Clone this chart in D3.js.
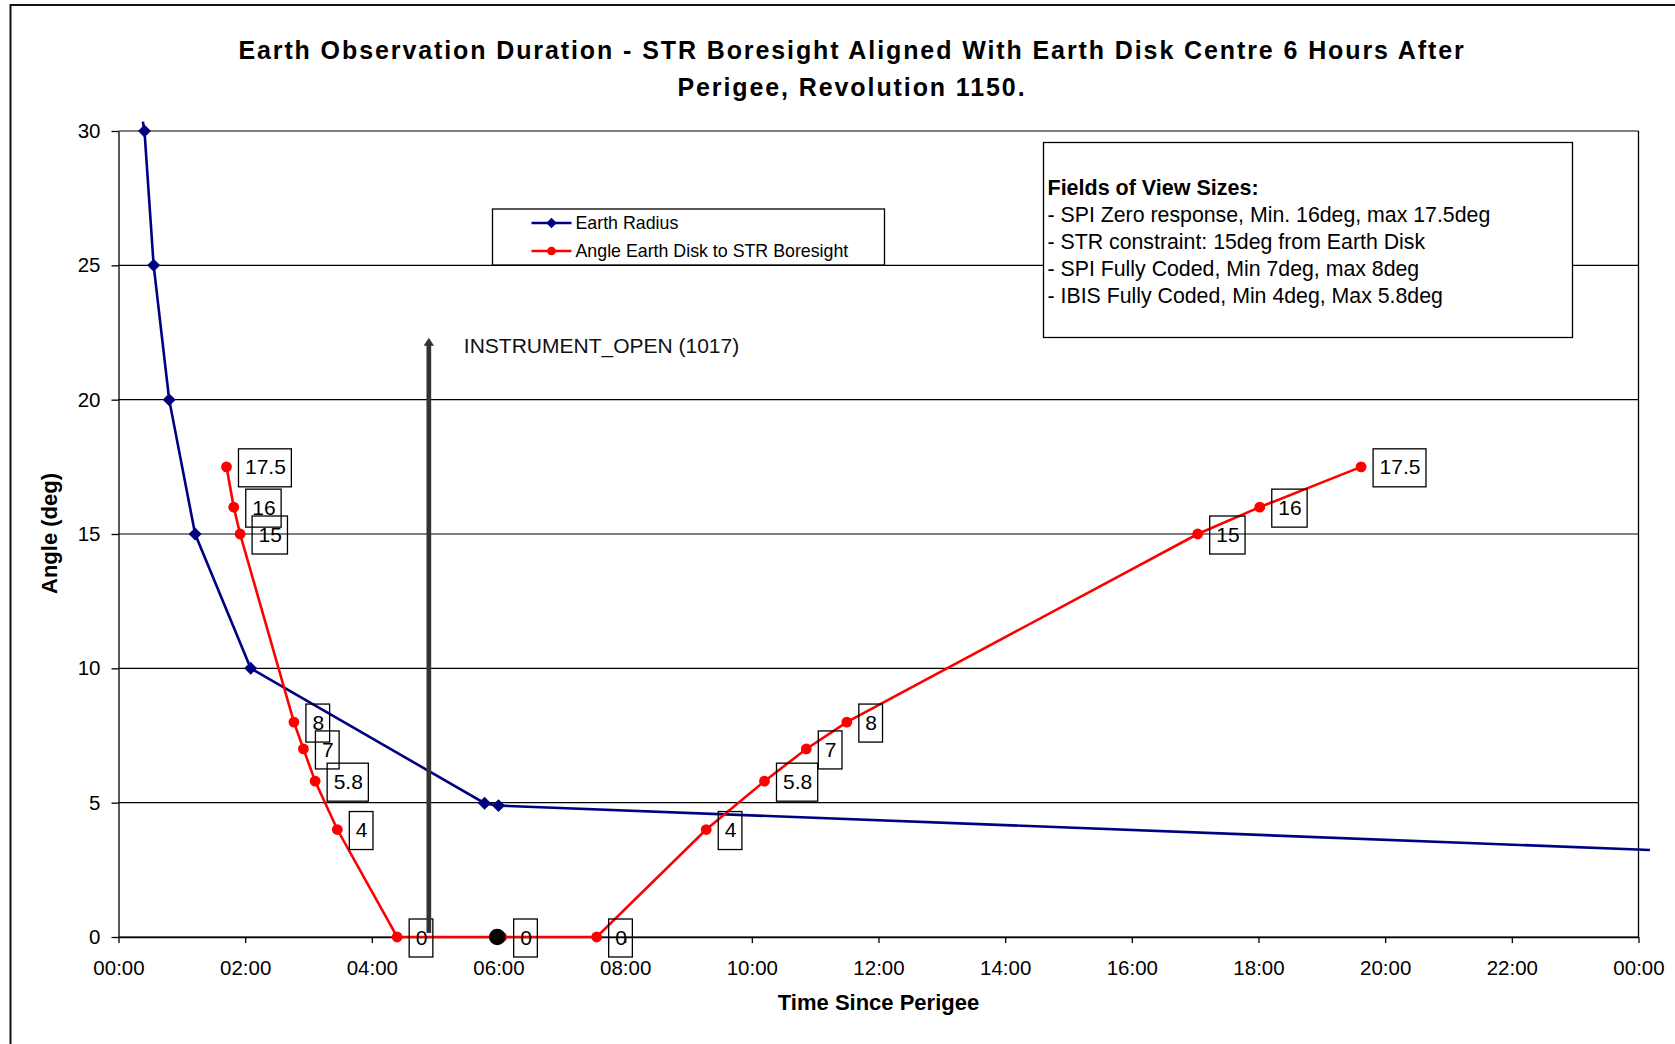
<!DOCTYPE html>
<meta charset="utf-8">
<style>

body { margin: 0; background: #fff; }

text {
  font-family: "Liberation Sans", Arial, sans-serif;
  fill: #000;
}

.grid line {
  stroke: #000;
  stroke-width: 1.2px;
}

.axis path, .axis line {
  stroke: #000;
  stroke-width: 1.3px;
}

.axis text {
  font-size: 20.5px;
}

.lbl rect {
  fill: none;
  stroke: #000;
  stroke-width: 1.3px;
}

</style>
<svg width="1675" height="1044"></svg>
<script src="https://d3js.org/d3.v7.min.js"></script>
<script>

// time since perigee in hours, angles in deg
var radiusTime  = [0.385, 0.41, 0.555, 0.80, 1.21, 2.087, 5.78, 6.0, 24.18];
var radiusAngle = [30.35, 30, 25, 20, 15, 10, 4.98, 4.89, 3.24];

var boreTime  = [1.705, 1.82, 1.92, 2.77, 2.92, 3.105, 3.455, 4.40, 6.05, 7.55, 9.28, 10.2, 10.86, 11.5, 17.04, 18.02, 19.62];
var boreAngle = [17.5, 16, 15, 8, 7, 5.8, 4, 0, 0, 0, 4, 5.8, 7, 8, 15, 16, 17.5];

var xTicks = [0, 2, 4, 6, 8, 10, 12, 14, 16, 18, 20, 22, 24];
var yTicks = [0, 5, 10, 15, 20, 25, 30];

var seriesNames = ["Earth Radius", "Angle Earth Disk to STR Boresight"];
var seriesColors = ["#000080", "#ff0000"];

var sixHourMark = [5.98, 0];

var openTime = 4.9,
    openTop = 22.3,
    openLabel = "INSTRUMENT_OPEN (1017)";

var titleLines = [
  "Earth Observation Duration - STR Boresight Aligned With Earth Disk Centre 6 Hours After",
  "Perigee, Revolution 1150."
];

var fovTitle = "Fields of View Sizes:";
var fovLines = [
  "- SPI Zero response, Min. 16deg, max 17.5deg",
  "- STR constraint: 15deg from Earth Disk",
  "- SPI Fully Coded, Min 7deg, max 8deg",
  "- IBIS Fully Coded, Min 4deg, Max 5.8deg"
];

var svg = d3.select("svg");

var plotLeft = 118.5, plotRight = 1638.5, plotTop = 131, plotBottom = 937;

var x = d3.scaleLinear().domain([0, 24]).range([plotLeft, plotRight]);
var y = d3.scaleLinear().domain([0, 30]).range([plotBottom, plotTop]);

var radius = radiusTime.map(function(t, i) { return [t, radiusAngle[i]]; });
var bore = boreTime.map(function(t, i) { return [t, boreAngle[i]]; });

// chart area frame (runs off the picture right and bottom)
svg.append("rect")
    .attr("x", 10.5).attr("y", 5)
    .attr("width", 1700).attr("height", 1100)
    .attr("fill", "none")
    .attr("stroke", "#111")
    .attr("stroke-width", 2);

svg.append("g").selectAll("text")
    .data(titleLines)
    .enter().append("text")
      .attr("x", 852)
      .attr("y", function(d, i) { return 59 + i * 37; })
      .attr("text-anchor", "middle")
      .style("font-size", "25px")
      .style("font-weight", "bold")
      .style("letter-spacing", "1.9px")
      .text(function(d) { return d; });

// gridlines
svg.append("g")
    .attr("class", "grid")
  .selectAll("line")
  .data(yTicks)
  .enter().append("line")
    .attr("x1", plotLeft).attr("x2", plotRight)
    .attr("y1", function(d) { return y(d); })
    .attr("y2", function(d) { return y(d); });

svg.append("line")
    .attr("x1", plotRight).attr("x2", plotRight)
    .attr("y1", plotTop).attr("y2", plotBottom)
    .attr("stroke", "#000").attr("stroke-width", 1.3);

svg.append("g")
    .attr("class", "axis")
    .attr("transform", "translate(" + plotLeft + ",0)")
    .call(d3.axisLeft(y).tickValues(yTicks).tickSize(7).tickPadding(11).tickSizeOuter(0));

svg.append("g")
    .attr("class", "axis")
    .attr("transform", "translate(0," + plotBottom + ")")
    .call(d3.axisBottom(x).tickValues(xTicks).tickSize(6).tickPadding(17).tickSizeOuter(0)
      .tickFormat(function(d) { return (d % 24 < 10 ? "0" : "") + (d % 24) + ":00"; }));

svg.append("text")
    .attr("transform", "translate(57,533.5) rotate(-90)")
    .attr("text-anchor", "middle")
    .style("font-size", "22px")
    .style("font-weight", "bold")
    .text("Angle (deg)");

svg.append("text")
    .attr("x", (plotLeft + plotRight) / 2)
    .attr("y", 1010)
    .attr("text-anchor", "middle")
    .style("font-size", "22px")
    .style("font-weight", "bold")
    .text("Time Since Perigee");

var line = d3.line()
    .x(function(d) { return x(d[0]); })
    .y(function(d) { return y(d[1]); });

function inside(d) { return d[0] >= 0 && d[0] <= 24 && d[1] >= 0 && d[1] <= 30; }

var diamond = d3.symbol().type(d3.symbolSquare).size(84);

svg.append("path")
    .datum(radius)
    .attr("d", line)
    .attr("fill", "none")
    .attr("stroke", seriesColors[0])
    .attr("stroke-width", 2.6);

svg.append("g").selectAll("path")
    .data(radius.filter(inside))
    .enter().append("path")
      .attr("d", diamond)
      .attr("transform", function(d) { return "translate(" + x(d[0]) + "," + y(d[1]) + ") rotate(45)"; })
      .attr("fill", seriesColors[0]);

svg.append("path")
    .datum(bore)
    .attr("d", line)
    .attr("fill", "none")
    .attr("stroke", seriesColors[1])
    .attr("stroke-width", 2.6);

svg.append("g").selectAll("circle")
    .data(bore)
    .enter().append("circle")
      .attr("cx", function(d) { return x(d[0]); })
      .attr("cy", function(d) { return y(d[1]); })
      .attr("r", 5.4)
      .attr("fill", seriesColors[1]);

svg.append("circle")
    .attr("cx", x(sixHourMark[0]))
    .attr("cy", y(sixHourMark[1]))
    .attr("r", 8.3)
    .attr("fill", "#000");

// boxed data labels
var lbl = svg.append("g").selectAll("g")
    .data(bore)
    .enter().append("g")
      .attr("class", "lbl")
      .attr("transform", function(d) { return "translate(" + (x(d[0]) + 12) + "," + y(d[1]) + ")"; });

lbl.append("text")
    .attr("x", 6.5)
    .attr("y", 7.6)
    .style("font-size", "21px")
    .text(function(d) { return d[1]; });

lbl.append("rect")
    .attr("x", 0)
    .attr("y", -18)
    .attr("height", 38)
    .attr("width", function() {
      return this.parentNode.querySelector("text").getComputedTextLength() + 12;
    });

// instrument open arrow
var ax = x(openTime), tipY = y(openTop);
svg.append("line")
    .attr("x1", ax).attr("x2", ax)
    .attr("y1", plotBottom - 4).attr("y2", tipY + 6)
    .attr("stroke", "#333")
    .attr("stroke-width", 4.7);
svg.append("path")
    .attr("d", "M" + (ax - 5.2) + "," + (tipY + 8) + "L" + ax + "," + tipY + "L" + (ax + 5.2) + "," + (tipY + 8) + "Z")
    .attr("fill", "#333");
svg.append("text")
    .attr("x", ax + 35)
    .attr("y", tipY + 15)
    .style("font-size", "21px")
    .style("fill", "#111")
    .text(openLabel);

// legend
var legend = svg.append("g").attr("transform", "translate(492.5,209)");
legend.append("rect")
    .attr("width", 392).attr("height", 56)
    .attr("fill", "#fff").attr("stroke", "#000").attr("stroke-width", 1.3);

var row = legend.selectAll("g.row")
    .data(seriesNames)
    .enter().append("g")
      .attr("class", "row")
      .attr("transform", function(d, i) { return "translate(0," + (14 + i * 28) + ")"; });

row.append("line")
    .attr("x1", 39).attr("x2", 79)
    .attr("stroke", function(d, i) { return seriesColors[i]; })
    .attr("stroke-width", 2.6);

row.append("path")
    .attr("d", function(d, i) {
      return i === 0 ? d3.symbol().type(d3.symbolSquare).size(56)() : d3.symbol().type(d3.symbolCircle).size(60)();
    })
    .attr("transform", function(d, i) { return "translate(59,0)" + (i === 0 ? " rotate(45)" : ""); })
    .attr("fill", function(d, i) { return seriesColors[i]; });

row.append("text")
    .attr("x", 83)
    .attr("y", 6)
    .style("font-size", "17.8px")
    .text(function(d) { return d; });

// fields of view note
var note = svg.append("g").attr("transform", "translate(1043.5,142.5)");
note.append("rect")
    .attr("width", 529).attr("height", 195)
    .attr("fill", "#fff").attr("stroke", "#000").attr("stroke-width", 1.3);
note.append("text")
    .attr("x", 4).attr("y", 52)
    .style("font-size", "21.5px")
    .style("font-weight", "bold")
    .text(fovTitle);
note.selectAll("text.fov")
    .data(fovLines)
    .enter().append("text")
      .attr("class", "fov")
      .attr("x", 4)
      .attr("y", function(d, i) { return 79.2 + i * 27.2; })
      .style("font-size", "21.3px")
      .text(function(d) { return d; });

</script>
